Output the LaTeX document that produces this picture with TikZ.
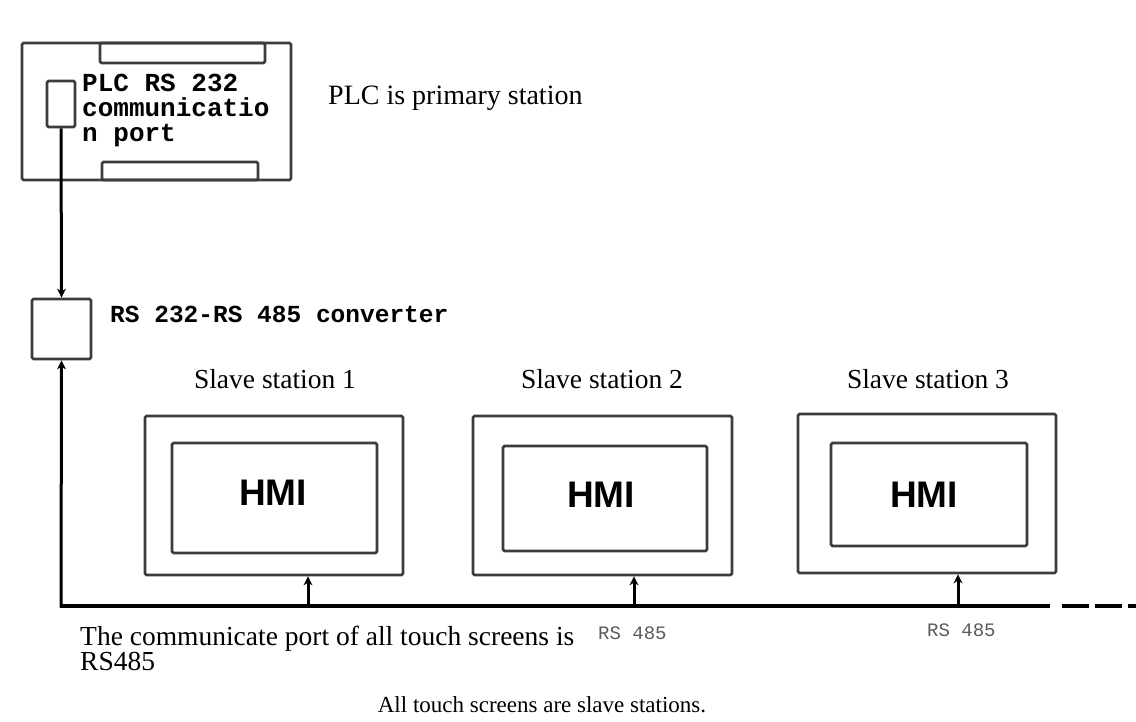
\documentclass[tikz,border=0pt]{standalone}
\usepackage{fontspec}
\setmainfont{Liberation Serif}
\newfontfamily\monob{Liberation Mono}[BoldFont=* Bold]
\newfontfamily\armono{Liberation Mono}
\newfontfamily\hmifont{Liberation Sans}
\usetikzlibrary{arrows.meta}
\definecolor{boxcol}{HTML}{3C3C3C}
\definecolor{graytxt}{HTML}{5A5A5A}
\tikzset{
  box/.style={draw=boxcol, line width=2.8pt, rounded corners=1.5pt, inner sep=0pt},
  wire/.style={draw=black, line width=3pt},
  bus/.style={draw=black, line width=4pt},
  arr/.style={-{Stealth[length=9pt,width=9pt]}},
  mono/.style={font=\monob\bfseries\fontsize{24.5}{25}\selectfont, anchor=west, inner sep=0pt},
  serif/.style={font=\fontsize{27.5}{25}\selectfont, inner sep=0pt},
  hmi/.style={font=\hmifont\bfseries\fontsize{37}{38}\selectfont, inner sep=0pt},
  rs/.style={font=\armono\fontsize{19}{20}\selectfont, text=graytxt, inner sep=0pt, anchor=west}
}
\begin{document}
\begin{tikzpicture}[x=1pt,y=-1pt]
\useasboundingbox (0,0) rectangle (1136,722);
% PLC
\draw[box] (22,43) rectangle (291,180);
\draw[box] (100,43) rectangle (265,63);
\draw[box] (102,162) rectangle (258,180);
\node[box, minimum width=28pt, minimum height=46pt] (port) at (61,104) {};
\node[mono, align=left, font=\monob\bfseries\fontsize{26}{25}\selectfont] (plct) at (82,111) {PLC RS 232\\communicatio\\n port};
\node[serif, anchor=west, font=\fontsize{28}{28}\selectfont] (prim) at (328,98) {PLC is primary station};
% converter
\node[box, minimum width=59pt, minimum height=60pt] (conv) at (61.5,329) {};
\node[mono] (convt) at (110,314) {RS 232-RS 485 converter};
\draw[wire, arr] (port.south) -- (conv.north);
% stations
\node[box, minimum width=258pt, minimum height=159pt] (o1) at (274,495.5) {};
\node[box, minimum width=205pt, minimum height=110pt] (i1) at (274.5,498) {};
\node[hmi] (h1) at (273,493) {HMI};
\node[box, minimum width=259pt, minimum height=159pt] (o2) at (602.5,495.5) {};
\node[box, minimum width=204pt, minimum height=105pt] (i2) at (605,498.5) {};
\node[hmi] (h2) at (601,495) {HMI};
\node[box, minimum width=258pt, minimum height=159pt] (o3) at (927,493.5) {};
\node[box, minimum width=196pt, minimum height=103pt] (i3) at (929,494.5) {};
\node[hmi] (h3) at (924,495) {HMI};
\node[serif] (s1) at (275,379) {Slave station 1};
\node[serif] (s2) at (602,379) {Slave station 2};
\node[serif] (s3) at (928,379) {Slave station 3};
% bus
\coordinate (c0) at (61,606);
\coordinate (b1) at (308,606);
\coordinate (b2) at (634,606);
\coordinate (b3) at (958,606);
\coordinate (be) at (1050,606);
\coordinate (bd) at (1136,606);
\draw[bus] ([xshift=-1.5pt]c0) -- (be);
\draw[bus, dash pattern=on 27pt off 6pt] ([xshift=12pt]be) -- (bd);
\draw[wire, arr] ([yshift=-1.5pt]c0) -- (conv.south);
\draw[wire, arr] (b1) -- (b1 |- o1.south);
\draw[wire, arr] (b2) -- (b2 |- o2.south);
\draw[wire, arr] (b3) -- (b3 |- o3.south);
% texts
\node[serif, anchor=west, align=left] (note) at (80,648) {The communicate port of all touch screens is\\RS485};
\node[rs] (rs1) at (598,633) {RS 485};
\node[rs] (rs3) at (927,630) {RS 485};
\node[serif, font=\fontsize{23}{24}\selectfont] (all) at (542,705) {All touch screens are slave stations.};
\end{tikzpicture}
\end{document}
